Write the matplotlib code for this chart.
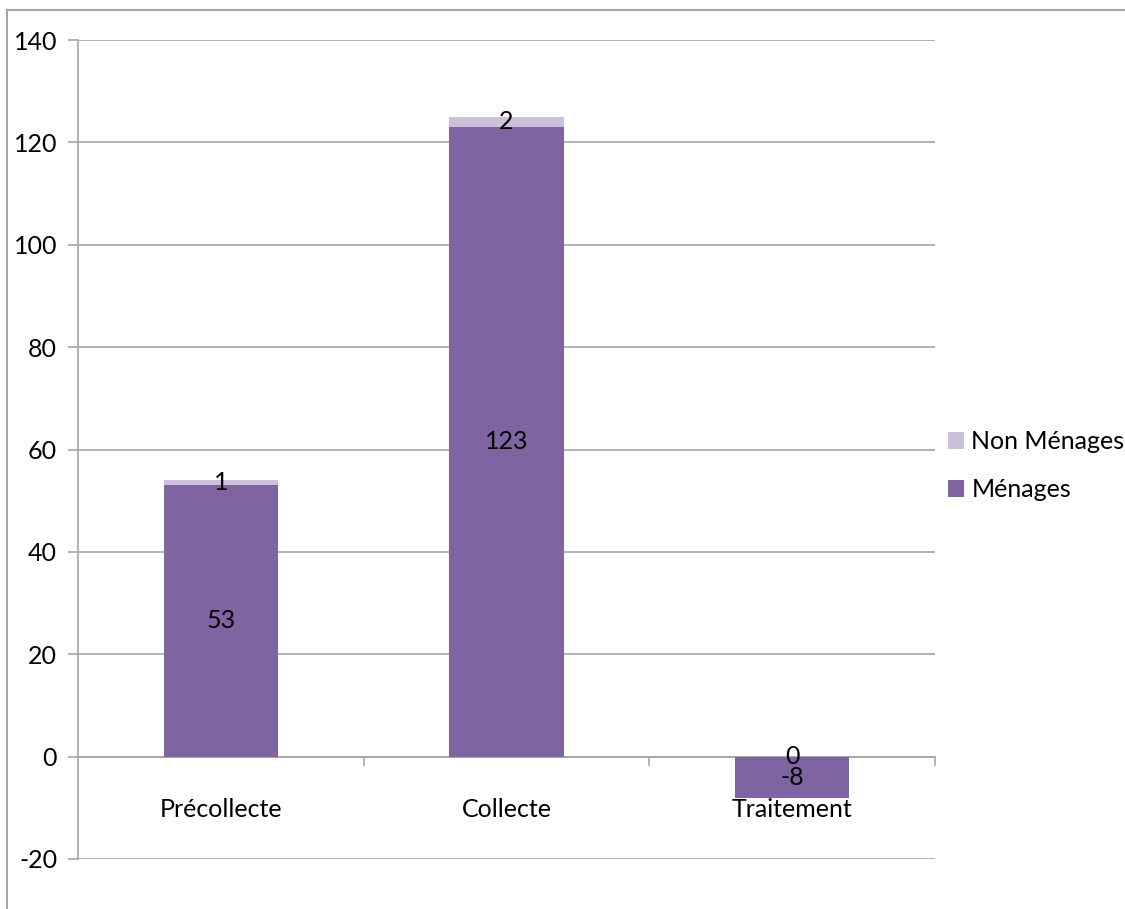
import numpy as np
import matplotlib
matplotlib.use('Agg')
import matplotlib.pyplot as plt
from matplotlib.lines import Line2D

# Données
categories = ['Précollecte', 'Collecte', 'Traitement']
menages = [53, 123, -8]
non_menages = [1, 2, 0]
yticks = [-20, 0, 20, 40, 60, 80, 100, 120, 140]

plt.rcParams['font.family'] = ['Lato', 'DejaVu Sans']
fs = 18
gris = '#A6A6A6'
c_men = '#8064A2'
c_non = '#CCC0DA'

fig = plt.figure(figsize=(11.25, 9.09), dpi=100)
ax = fig.add_axes([78/1125, 1-859/909, (935-78)/1125, (859-40)/909])

x = np.arange(len(categories))
larg = 0.4
b1 = ax.bar(x, menages, larg, color=c_men, label='Ménages', zorder=3)
# empilement : les positifs au-dessus des positifs, sinon à partir de 0
base = [m if m > 0 else 0 for m in menages]
b2 = ax.bar(x, non_menages, larg, bottom=base, color=c_non, label='Non Ménages',
            linewidth=0, zorder=3)

ax.bar_label(b1, label_type='center', fontsize=fs, color='black')
for xi, v, b in zip(x, non_menages, base):
    ax.text(xi, b + v/2, str(v), ha='center', va='center', fontsize=fs, color='black', zorder=4)

ax.set_xlim(-0.5, len(categories)-0.5)
ax.set_ylim(-20, 140)
ax.set_yticks(yticks)
ax.set_yticklabels([str(t) for t in yticks], fontsize=fs)
ax.yaxis.grid(True, color=gris, linewidth=1.2, zorder=0)
ax.tick_params(axis='y', length=7, color=gris, width=1.2, pad=8)

for s in ['top', 'right', 'bottom']:
    ax.spines[s].set_visible(False)
ax.spines['left'].set_color(gris)
ax.spines['left'].set_linewidth(1.2)

# axe des catégories au niveau de 0
ax.axhline(0, color=gris, linewidth=1.2, zorder=2)
ax.set_xticks(x + 0.5)
ax.set_xticklabels([])
ax.tick_params(axis='x', which='major', length=0)
for xb in x + 0.5:
    ax.plot([xb, xb], [0, -1.6], color=gris, linewidth=1.2, clip_on=False, zorder=2)
for xi, cat in zip(x, categories):
    ax.text(xi, -10.3, cat, ha='center', va='center', fontsize=fs)

# légende
h, l = ax.get_legend_handles_labels()
leg = fig.legend(h[::-1], l[::-1], loc='center left', bbox_to_anchor=(925/1125, 1-466/909),
                 frameon=False, fontsize=fs, handlelength=0.65, handleheight=0.65,
                 handletextpad=0.3, labelspacing=1.0)

# cadre du graphique
fig.add_artist(Line2D([7/1125, 1], [1-10/909, 1-10/909], color=gris, linewidth=1.5))
fig.add_artist(Line2D([7/1125, 7/1125], [1-10/909, 0], color=gris, linewidth=1.5))

fig.savefig('out.png', dpi=100)
